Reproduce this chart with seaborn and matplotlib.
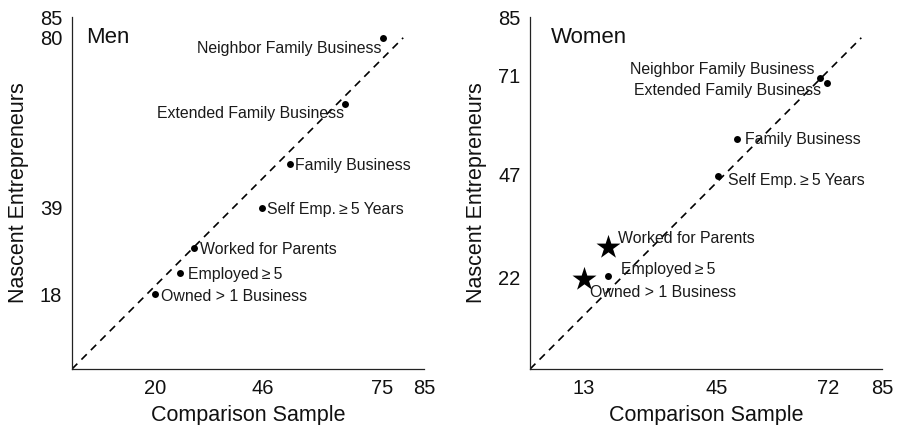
import numpy as np
import pandas as pd
import matplotlib
matplotlib.use("Agg")
import matplotlib.pyplot as plt
import seaborn as sns

sns.set_theme(style="white")
plt.rcParams['font.family'] = ['Liberation Sans', 'DejaVu Sans']
plt.rcParams['text.color'] = '#111111'
plt.rcParams['axes.labelcolor'] = '#111111'

# data
labels = ["Neighbor Family Business", "Extended Family Business", "Family Business",
          "Self Emp.\u2009\u2265\u20095 Years", "Worked for Parents", "Employed\u2009\u2265\u20095",
          "Owned > 1 Business"]

men_x = [75, 66, 52.6, 46, 29.4, 26.2, 20]
men_y = [80, 64, 49.5, 39, 29.2, 23.3, 18]
men_star = [False] * 7
men_xticks = [20, 46, 75, 85]
men_yticks = [18, 39, 80, 85]
# label offsets in points (dx, dy) and alignment
men_offsets = [(-1, -8, 'right'), (-1, -6.5, 'right'), (3.5, -0.7, 'left'), (3.6, -1.7, 'left'),
               (4.3, -0.7, 'left'), (5.5, -1.6, 'left'), (4.3, -1.7, 'left')]

women_x = [70, 71.6, 50, 45.4, 18.9, 18.8, 13]
women_y = [70.4, 69.1, 55.6, 46.7, 29.4, 22.4, 21.8]
women_star = [False, False, False, False, True, False, True]
women_xticks = [13, 45, 72, 85]
women_yticks = [22, 47, 71, 85]
women_offsets = [(-3.6, 5.8, 'right'), (-3.6, -5.8, 'right'), (5.5, -0.7, 'left'), (6.8, -3.6, 'left'),
                 (6.8, 6.5, 'left'), (9.1, 4.8, 'left'), (4.3, -9.6, 'left')]

diag = [0, 80]

fig = plt.figure(figsize=(9, 4.25), dpi=100)
ax1 = fig.add_axes([0.08, 0.1318, 0.391, 0.828])
ax2 = fig.add_axes([0.589, 0.1318, 0.391, 0.828])


def draw_panel(ax, xs, ys, stars, offsets, xticks, yticks, title, title_x):
    df = pd.DataFrame({"x": xs, "y": ys, "star": stars, "label": labels})
    ax.plot(diag, diag, ls=(0, (4.5, 3.5)), color="black", lw=1.2)
    dots = df[~df.star]
    big = df[df.star]
    sns.scatterplot(data=dots, x="x", y="y", ax=ax, s=25, color="black",
                    edgecolor="black", linewidth=0, zorder=3)
    if len(big):
        sns.scatterplot(data=big, x="x", y="y", ax=ax, s=330, marker="*", color="black",
                        edgecolor="black", linewidth=0, zorder=3)
    for (_, row), (dx, dy, ha) in zip(df.iterrows(), offsets):
        ax.annotate(row.label, (row.x, row.y), xytext=(dx, dy), textcoords="offset points",
                    ha=ha, va="center", fontsize=11.4, color="#1a1a1a")
    ax.set_xlim(0, 85)
    ax.set_ylim(0, 85)
    ax.set_xticks(xticks)
    ax.set_yticks(yticks)
    ax.tick_params(direction="in", length=3, width=0.8, labelsize=14.5, colors="#111111", pad=7)
    for side in ["top", "right"]:
        ax.spines[side].set_visible(False)
    for side in ["left", "bottom"]:
        ax.spines[side].set_color("#222222")
        ax.spines[side].set_linewidth(0.9)
    ax.set_xlabel("Comparison Sample", fontsize=15.5, labelpad=5)
    ax.set_ylabel("Nascent Entrepreneurs", fontsize=15.5, labelpad=8)
    ax.text(title_x, 0.942, title, transform=ax.transAxes, fontsize=16, va="center", ha="left")


draw_panel(ax1, men_x, men_y, men_star, men_offsets, men_xticks, men_yticks, "Men", 0.04)
draw_panel(ax2, women_x, women_y, women_star, women_offsets, women_xticks, women_yticks, "Women", 0.06)

plt.savefig("out.png", dpi=100)
